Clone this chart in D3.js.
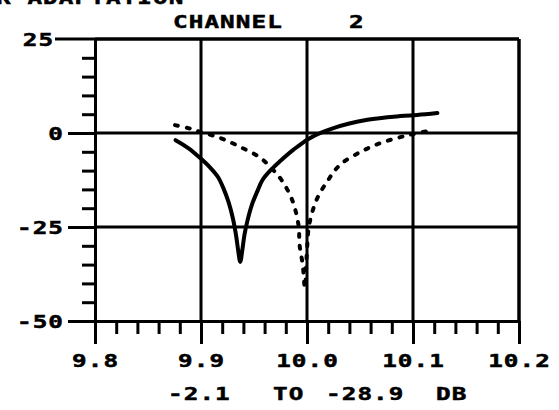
<!DOCTYPE html>
<html>
<head>
<meta charset="utf-8">
<script src="https://cdn.jsdelivr.net/npm/d3@7"></script>
<style>
  body { margin: 0; background: #fff; }
  svg { display: block; }
  .lbl { font-family: "DejaVu Sans Mono", monospace; font-weight: bold; fill: #000; stroke: #000; stroke-width: 0.5; }
</style>
</head>
<body>
<div id="chart"></div>
<script>
// frequency (GHz) / level (dB)
const solidX = [9.876, 9.888, 9.899, 9.908, 9.916, 9.921, 9.926, 9.930, 9.933, 9.935, 9.937,
    9.939, 9.941, 9.944, 9.948, 9.953, 9.958, 9.966, 9.975, 9.987, 10.003, 10.025, 10.057, 10.088, 10.104, 10.123]
const solidY = [-1.9, -4.0, -6.6, -9.0, -11.7, -14.6, -18.4, -22.6, -27.1, -31.1, -34.3,
    -31.1, -27.1, -23.1, -19.1, -15.6, -12.5, -9.8, -7.4, -4.5, -1.3, 1.3, 3.5, 4.5, 4.8, 5.3]

const dashX = [9.8755, 9.888, 9.899, 9.918, 9.937, 9.956, 9.968, 9.976, 9.986, 9.992, 9.993, 9.996,
    9.998, 10.000, 10.002, 10.009, 10.020, 10.031, 10.050, 10.069, 10.088, 10.100, 10.119]
const dashY = [2.1, 1.3, 0.3, -1.3, -3.7, -6.6, -9.8, -12.5, -17.8, -24.5, -29.8, -35.1,
    -41.2, -31.1, -24.5, -17.8, -12.5, -8.5, -5.1, -2.7, -1.1, -0.3, 0.8]

const xMajor = [9.8, 9.9, 10.0, 10.1, 10.2]
const xLabels = ['9.8', '9.9', '10.0', '10.1', '10.2']
const yMajor = [25, 0, -25, -50]
const yLabels = ['25', '0', '-25', '-50']

const width = 559, height = 410
const fs = 18, sx = 1.35, ls = 0.8   // wide plotter-like lettering

const svg = d3.select('#chart').append('svg')
    .attr('width', width)
    .attr('height', height)

const x = d3.scaleLinear().domain([9.8, 10.2]).range([95, 519])
const y = d3.scaleLinear().domain([-50, 25]).range([321, 39])

const xMinor = d3.range(0, 21).map(i => 9.8 + i * 0.02).filter((v, i) => i % 5 != 0)
const yMinor = d3.range(-50, 26, 5).filter(v => v % 25 != 0)

function label(str, px, py, anchor) {
    let dx = anchor == 'end' ? ls : anchor == 'middle' ? ls / 2 : 0
    svg.append('text')
        .attr('class', 'lbl')
        .attr('transform', `translate(${px},${py}) scale(${sx},1)`)
        .attr('text-anchor', anchor)
        .attr('font-size', fs)
        .attr('letter-spacing', ls)
        .attr('dx', dx)
        .text(str)
}

// grid lines
const grid = svg.append('g')
    .attr('stroke', '#000')
    .attr('stroke-width', 3)
grid.selectAll('.gx').data(xMajor.slice(1)).join('line')
    .attr('x1', d => x(d)).attr('x2', d => x(d))
    .attr('y1', y(25)).attr('y2', y(-50))
grid.selectAll('.gy').data(yMajor.slice(0, 3)).join('line')
    .attr('x1', x(9.8)).attr('x2', x(10.2))
    .attr('y1', d => y(d)).attr('y2', d => y(d))

// axes
function styleAxis(g) {
    g.select('.domain').attr('stroke-width', 3).attr('stroke', '#000')
    g.selectAll('.tick line').attr('stroke-width', 3).attr('stroke', '#000')
}

svg.append('g')
    .attr('transform', `translate(${x(9.8)},0)`)
    .call(d3.axisLeft(y).tickValues(yMinor).tickSize(13).tickSizeOuter(0).tickFormat(''))
    .call(styleAxis)

svg.append('g')
    .attr('transform', `translate(${x(9.8)},0)`)
    .call(d3.axisLeft(y).tickValues(yMajor.slice(1)).tickSize(27).tickSizeOuter(0).tickFormat(''))
    .call(styleAxis)

svg.append('g')
    .attr('transform', `translate(0,${y(-50)})`)
    .call(d3.axisBottom(x).tickValues(xMinor).tickSize(13).tickSizeOuter(0).tickFormat(''))
    .call(styleAxis)

svg.append('g')
    .attr('transform', `translate(0,${y(-50)})`)
    .call(d3.axisBottom(x).tickValues(xMajor).tickSize(23).tickSizeOuter(0).tickFormat(''))
    .call(styleAxis)

// top and right frame
svg.append('line')
    .attr('x1', x(9.8) - 40).attr('x2', x(10.2))
    .attr('y1', y(25)).attr('y2', y(25))
    .attr('stroke', '#000').attr('stroke-width', 3)
svg.append('line')
    .attr('x1', x(10.2)).attr('x2', x(10.2))
    .attr('y1', y(25)).attr('y2', y(-50))
    .attr('stroke', '#000').attr('stroke-width', 3)

// tick labels
yMajor.forEach((d, i) => label(yLabels[i], d == 25 ? 53 : 63, y(d) + 6.5, 'end'))
xMajor.forEach((d, i) => label(xLabels[i], x(d), 367, 'middle'))

// curves
const solidData = solidX.map((d, i) => [d, solidY[i]])
const dashData = dashX.map((d, i) => [d, dashY[i]])
const line = d3.line()
    .x(d => x(d[0]))
    .y(d => y(d[1]))
    .curve(d3.curveCatmullRom.alpha(0.5))

svg.append('path')
    .attr('d', line(dashData))
    .attr('fill', 'none')
    .attr('stroke', '#000')
    .attr('stroke-width', 4)
    .attr('stroke-linecap', 'round')
    .attr('stroke-dasharray', '3,9')

svg.append('path')
    .attr('d', line(solidData))
    .attr('fill', 'none')
    .attr('stroke', '#000')
    .attr('stroke-width', 4)
    .attr('stroke-linecap', 'round')

// titles
label('R ADAPTATION', -4, 4, 'start')
label('CHANNEL', 173, 28, 'start')
label('2', 349, 28, 'start')
label('-2.1', 168, 400, 'start')
label('TO', 273, 400, 'start')
label('-28.9', 326, 400, 'start')
label('DB', 436, 400, 'start')
</script>
</body>
</html>
